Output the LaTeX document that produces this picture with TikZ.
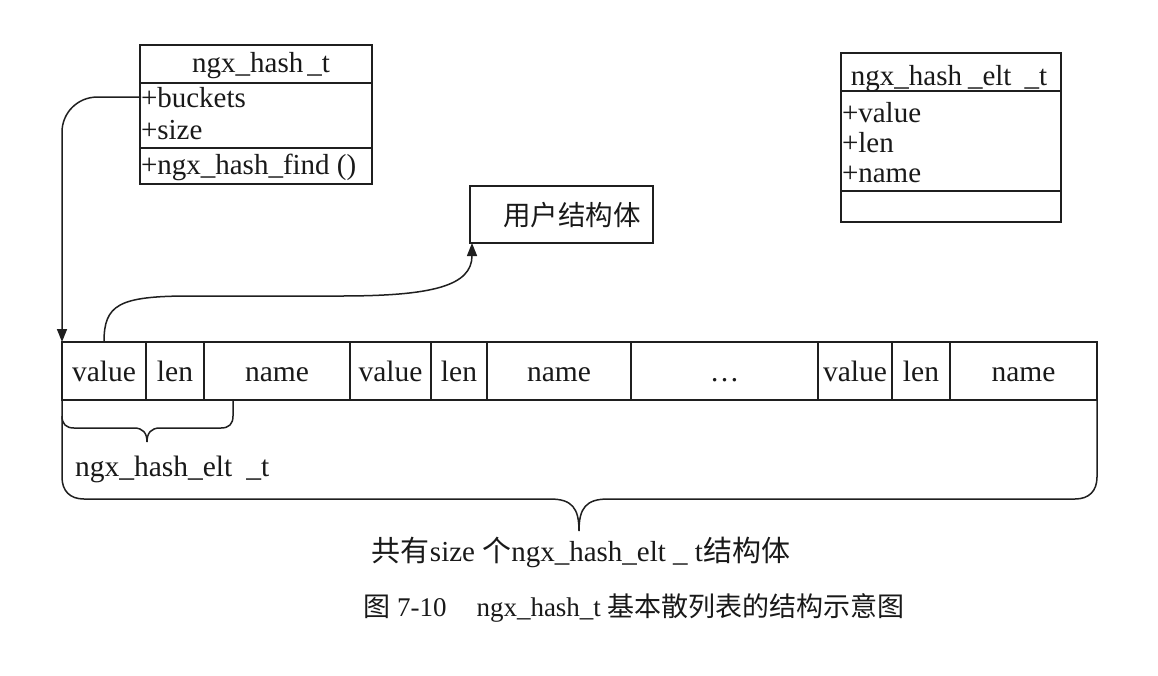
\documentclass[tikz,border=0pt]{standalone}
\usepackage{fontspec}
\setmainfont{Liberation Serif}
\newfontfamily\cjk{Noto Sans CJK SC}
\usetikzlibrary{arrows.meta}
\begin{document}
\begin{tikzpicture}[x=1pt,y=-1pt,
  ink/.style={line width=1.5pt, draw=black!88},
  txt/.style={inner sep=0pt, outer sep=0pt, text=black!90, font=\fontsize{29}{32}\selectfont},
  box/.style={ink, inner sep=0pt, outer sep=0pt, anchor=north west},
  cell/.style={ink, draw, inner sep=0pt, outer sep=0pt, minimum height=58pt,
    text height=20pt, text depth=0pt, anchor=south west, text=black!90,
    font=\fontsize{29.5}{32}\selectfont},
  arr/.style={ink, -{Triangle[length=13pt,width=10pt]}},
  brace/.style={ink},
]
\fill[white] (0,0) rectangle (1158,675);
\useasboundingbox (0,0) rectangle (1158,675);

% ngx_hash_t class box
\node[box, draw, minimum width=232pt, minimum height=139pt] (ht) at (140,45) {};
\draw[ink] (140,83) -- (372,83);
\draw[ink] (140,148) -- (372,148);
\node[txt, anchor=base] (htname) at (261,72) {ngx\_hash\hspace{4pt}\_t};
\node[txt, anchor=base west] (bk) at (141,107) {+buckets};
\node[txt, anchor=base west] (sz) at (141,139) {+size};
\node[txt, anchor=base west] (fd) at (141,174) {+ngx\_hash\_find ()};

% ngx_hash_elt_t class box
\node[box, draw, minimum width=220pt, minimum height=169pt] (et) at (841,53) {};
\draw[ink] (841,91) -- (1061,91);
\draw[ink] (841,191) -- (1061,191);
\node[txt, anchor=base] (etname) at (949,85) {ngx\_hash\hspace{6pt}\_elt\hspace{13pt}\_t};
\node[txt, anchor=base west] (ev) at (842,122) {+value};
\node[txt, anchor=base west] (el) at (842,152) {+len};
\node[txt, anchor=base west] (en) at (842,182) {+name};

% user struct box
\node[box, draw, minimum width=183pt, minimum height=57pt] (ub) at (470,186) {};
\node[txt, font=\fontsize{27.5}{30}\selectfont] (ubt) at (572,215) {\cjk 用户结构体};

% array of elements
\node[cell, minimum width=84pt] (c1) at (62,400) {value};
\node[cell, minimum width=58pt] (c2) at (c1.south east) {len};
\node[cell, minimum width=146pt] (c3) at (c2.south east) {name};
\node[cell, minimum width=81pt] (c4) at (c3.south east) {value};
\node[cell, minimum width=56pt] (c5) at (c4.south east) {len};
\node[cell, minimum width=144pt] (c6) at (c5.south east) {name};
\node[cell, minimum width=187pt] (c7) at (c6.south east) {…};
\node[cell, minimum width=74pt] (c8) at (c7.south east) {value};
\node[cell, minimum width=58pt] (c9) at (c8.south east) {len};
\node[cell, minimum width=147pt] (c10) at (c9.south east) {name};

% buckets -> first element
\draw[arr, rounded corners=35pt] (bk.west) -| (c1.north west);

% value -> user struct
\draw[arr] (c1.north) .. controls (104,305) and (118,296) .. (190,296)
  -- (340,296) .. controls (432,296) and (472,286) .. ([xshift=2pt]ub.south west);

% small brace under first element
\draw[brace] (c1.south west) -- (62,416) .. controls (62,424) and (66,428) .. (74,428)
  -- (134,428) .. controls (143,428) and (147,433) .. (147,442)
  .. controls (147,433) and (151,428) .. (160,428)
  -- (221,428) .. controls (229,428) and (233,424) .. (233,416) -- (233,400);
\node[txt, anchor=base west, font=\fontsize{29.5}{32}\selectfont] (eltlab) at (75,476) {ngx\_hash\_elt\hspace{14pt}\_t};

% big brace under whole array
\draw[brace] (62,416) -- (62,477) .. controls (62,491) and (70,499) .. (84,499)
  -- (550,499) .. controls (572,499) and (579,508) .. (579,531)
  .. controls (579,508) and (586,499) .. (608,499)
  -- (1075,499) .. controls (1089,499) and (1097,491) .. (1097,477) -- (c10.south east);

\node[txt] (sizelab) at (581,552) {{\cjk 共有}size {\cjk 个}ngx\_hash\_elt \_ t{\cjk 结构体}};

% caption
\node[txt, font=\fontsize{27}{30}\selectfont] (cap) at (634,608) {{\cjk 图} 7-10\hspace{30pt}ngx\_hash\_t {\cjk 基本散列表的结构示意图}};
\end{tikzpicture}
\end{document}
